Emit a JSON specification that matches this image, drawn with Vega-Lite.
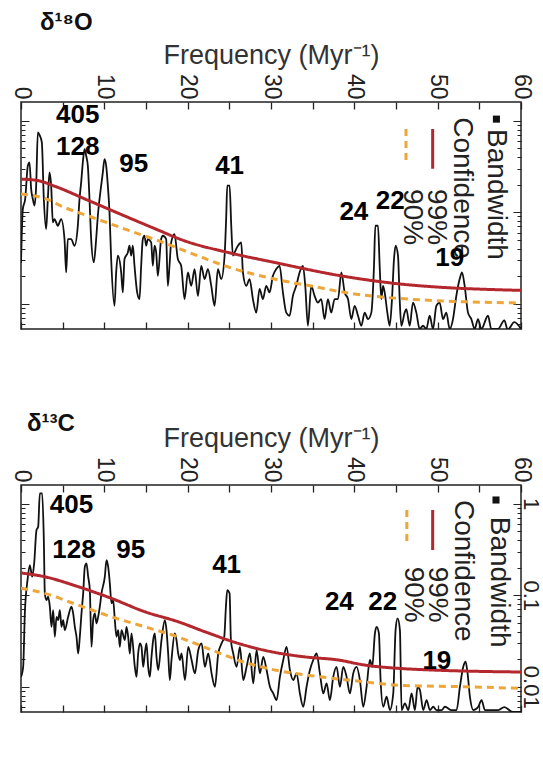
{
  "$schema": "https://vega.github.io/schema/vega-lite/v6.json",
  "background": "white",
  "padding": {"left": 8, "top": 10, "right": 0, "bottom": 0},
  "spacing": 80,
  "config": {
    "font": "Liberation Sans",
    "view": {"stroke": "#222", "strokeWidth": 1.5},
    "axis": {"domain": false, "grid": false, "tickColor": "#222", "labelColor": "#222", "titleColor": "#333", "labelFont": "Liberation Sans", "titleFont": "Liberation Sans"}
  },
  "datasets": {
    "s1": [
      {"f":0,"v":0.028},{"f":0.22,"v":0.108},{"f":0.5,"v":0.139},{"f":0.82,"v":0.322},{"f":1.02,"v":0.35},{"f":1.22,"v":0.179},{"f":1.42,"v":0.139},{"f":1.62,"v":0.118},{"f":1.82,"v":0.195},{"f":2.02,"v":0.746},{"f":2.26,"v":0.686},{"f":2.5,"v":0.58},{"f":2.74,"v":0.139},{"f":3.02,"v":0.0655},{"f":3.22,"v":0.139},{"f":3.42,"v":0.272},{"f":3.62,"v":0.195},{"f":3.82,"v":0.0774},{"f":4.02,"v":0.0842},{"f":4.42,"v":0.0712},{"f":4.82,"v":0.0842},{"f":5.22,"v":0.0509},{"f":5.42,"v":0.022},{"f":5.62,"v":0.0509},{"f":6.02,"v":0.0509},{"f":6.42,"v":0.043},{"f":6.82,"v":0.0712},{"f":7.02,"v":0.139},{"f":7.22,"v":0.212},{"f":7.42,"v":0.35},{"f":7.62,"v":0.49},{"f":7.82,"v":0.414},{"f":8.02,"v":0.322},{"f":8.22,"v":0.139},{"f":8.42,"v":0.0509},{"f":8.74,"v":0.0283},{"f":9.02,"v":0.0509},{"f":9.22,"v":0.0916},{"f":9.62,"v":0.195},{"f":9.82,"v":0.272},{"f":10.02,"v":0.381},{"f":10.22,"v":0.322},{"f":10.42,"v":0.195},{"f":10.62,"v":0.0996},{"f":10.82,"v":0.0308},{"f":11.22,"v":0.0095},{"f":11.42,"v":0.022},{"f":11.62,"v":0.0335},{"f":12.02,"v":0.022},{"f":12.22,"v":0.0133},{"f":12.42,"v":0.0308},{"f":12.82,"v":0.0364},{"f":13.02,"v":0.043},{"f":13.22,"v":0.0335},{"f":13.42,"v":0.043},{"f":13.62,"v":0.026},{"f":13.94,"v":0.0133},{"f":14.22,"v":0.01125},{"f":14.42,"v":0.026},{"f":14.62,"v":0.0509},{"f":14.82,"v":0.0553},{"f":15.02,"v":0.043},{"f":15.22,"v":0.0509},{"f":15.62,"v":0.0468},{"f":15.82,"v":0.026},{"f":16.02,"v":0.043},{"f":16.22,"v":0.0364},{"f":16.42,"v":0.0202},{"f":16.82,"v":0.0509},{"f":17.02,"v":0.0553},{"f":17.42,"v":0.0509},{"f":17.62,"v":0.0157},{"f":17.82,"v":0.026},{"f":18.02,"v":0.0468},{"f":18.42,"v":0.0577},{"f":18.82,"v":0.0308},{"f":19.22,"v":0.026},{"f":19.63,"v":0.01125},{"f":20.03,"v":0.022},{"f":20.43,"v":0.0157},{"f":20.83,"v":0.0239},{"f":21.23,"v":0.0122},{"f":21.63,"v":0.026},{"f":22.03,"v":0.0186},{"f":22.43,"v":0.0239},{"f":22.83,"v":0.0157},{"f":23.23,"v":0.0095},{"f":23.63,"v":0.0239},{"f":24.03,"v":0.0186},{"f":24.43,"v":0.0335},{"f":24.63,"v":0.0916},{"f":24.75,"v":0.195},{"f":25.03,"v":0.195},{"f":25.23,"v":0.0712},{"f":25.43,"v":0.0335},{"f":25.63,"v":0.0364},{"f":26.03,"v":0.043},{"f":26.43,"v":0.0468},{"f":26.63,"v":0.022},{"f":27.03,"v":0.0157},{"f":27.43,"v":0.0186},{"f":27.83,"v":0.01125},{"f":28.23,"v":0.008},{"f":28.63,"v":0.0145},{"f":29.03,"v":0.01125},{"f":29.43,"v":0.0157},{"f":29.83,"v":0.0133},{"f":30.23,"v":0.0202},{"f":30.63,"v":0.0239},{"f":31.03,"v":0.026},{"f":31.43,"v":0.0133},{"f":31.83,"v":0.008},{"f":32.23,"v":0.0074},{"f":32.63,"v":0.0122},{"f":33.03,"v":0.0157},{"f":33.43,"v":0.022},{"f":33.83,"v":0.026},{"f":34.11,"v":0.0157},{"f":34.43,"v":0.00575},{"f":34.83,"v":0.0157},{"f":35.23,"v":0.0122},{"f":35.63,"v":0.0103},{"f":36.03,"v":0.01125},{"f":36.43,"v":0.0068},{"f":36.83,"v":0.01125},{"f":37.23,"v":0.008},{"f":37.63,"v":0.01125},{"f":38.04,"v":0.01125},{"f":38.44,"v":0.022},{"f":38.84,"v":0.0133},{"f":39.24,"v":0.01125},{"f":39.64,"v":0.0068},{"f":40.04,"v":0.0095},{"f":40.44,"v":0.0074},{"f":40.84,"v":0.00575},{"f":41.24,"v":0.008},{"f":41.64,"v":0.0068},{"f":42.04,"v":0.008},{"f":42.36,"v":0.026},{"f":42.52,"v":0.0712},{"f":42.84,"v":0.0712},{"f":43.04,"v":0.026},{"f":43.24,"v":0.01125},{"f":43.44,"v":0.0157},{"f":43.64,"v":0.0133},{"f":43.96,"v":0.008},{"f":44.24,"v":0.00575},{"f":44.52,"v":0.01125},{"f":44.76,"v":0.0308},{"f":44.96,"v":0.043},{"f":45.24,"v":0.0335},{"f":45.44,"v":0.01125},{"f":45.64,"v":0.00575},{"f":46.04,"v":0.008},{"f":46.24,"v":0.00875},{"f":46.64,"v":0.00575},{"f":47.04,"v":0.0103},{"f":47.44,"v":0.008},{"f":47.84,"v":0.0053},{"f":48.24,"v":0.00575},{"f":48.64,"v":0.0053},{"f":49.04,"v":0.0074},{"f":49.44,"v":0.0053},{"f":49.84,"v":0.0095},{"f":50.24,"v":0.0103},{"f":50.64,"v":0.0068},{"f":51.04,"v":0.008},{"f":51.44,"v":0.0053},{"f":51.84,"v":0.0068},{"f":52.24,"v":0.0122},{"f":52.64,"v":0.0186},{"f":52.92,"v":0.022},{"f":53.24,"v":0.0157},{"f":53.64,"v":0.008},{"f":54.04,"v":0.0068},{"f":54.44,"v":0.0053},{"f":54.84,"v":0.0068},{"f":55.24,"v":0.0053},{"f":56.04,"v":0.0074},{"f":56.44,"v":0.0053},{"f":57.24,"v":0.0053},{"f":58,"v":0.0066},{"f":58.4,"v":0.0052},{"f":59.2,"v":0.0063},{"f":60,"v":0.0053}
    ],
    "s2": [
      {"f":0,"v":0.0128},{"f":0.26,"v":0.0165},{"f":0.46,"v":0.0633},{"f":0.78,"v":0.146},{"f":1.06,"v":0.2136},{"f":1.34,"v":0.1593},{"f":1.58,"v":0.223},{"f":1.86,"v":0.515},{"f":2.06,"v":0.56},{"f":2.26,"v":1.297},{"f":2.54,"v":1.297},{"f":2.74,"v":0.401},{"f":2.86,"v":0.1047},{"f":3.06,"v":0.0885},{"f":3.26,"v":0.0963},{"f":3.46,"v":0.0749},{"f":3.66,"v":0.0452},{"f":3.86,"v":0.0689},{"f":4.06,"v":0.0352},{"f":4.26,"v":0.0581},{"f":4.46,"v":0.0535},{"f":4.66,"v":0.0689},{"f":4.86,"v":0.0452},{"f":5.06,"v":0.0535},{"f":5.26,"v":0.0416},{"f":5.66,"v":0.0581},{"f":6.06,"v":0.0749},{"f":6.26,"v":0.0633},{"f":6.46,"v":0.0452},{"f":6.66,"v":0.0352},{"f":6.86,"v":0.0231},{"f":7.06,"v":0.0352},{"f":7.26,"v":0.0633},{"f":7.46,"v":0.1047},{"f":7.66,"v":0.205},{"f":7.86,"v":0.223},{"f":8.06,"v":0.1593},{"f":8.26,"v":0.1136},{"f":8.46,"v":0.0273},{"f":8.66,"v":0.0535},{"f":8.86,"v":0.0633},{"f":9.06,"v":0.0492},{"f":9.26,"v":0.0581},{"f":9.46,"v":0.0749},{"f":9.66,"v":0.1047},{"f":10.06,"v":0.1593},{"f":10.26,"v":0.242},{"f":10.46,"v":0.205},{"f":10.66,"v":0.1347},{"f":10.86,"v":0.0814},{"f":11.06,"v":0.0885},{"f":11.26,"v":0.0535},{"f":11.46,"v":0.0352},{"f":11.66,"v":0.0416},{"f":11.86,"v":0.0273},{"f":12.06,"v":0.0416},{"f":12.46,"v":0.0324},{"f":12.66,"v":0.0452},{"f":12.86,"v":0.0352},{"f":13.06,"v":0.0231},{"f":13.26,"v":0.0383},{"f":13.66,"v":0.0165},{"f":13.86,"v":0.01283},{"f":14.06,"v":0.0231},{"f":14.26,"v":0.0298},{"f":14.46,"v":0.0273},{"f":14.66,"v":0.0165},{"f":14.86,"v":0.0231},{"f":15.06,"v":0.0298},{"f":15.26,"v":0.0165},{"f":15.46,"v":0.01283},{"f":15.66,"v":0.0212},{"f":15.86,"v":0.0324},{"f":16.06,"v":0.0383},{"f":16.26,"v":0.0212},{"f":16.46,"v":0.01525},{"f":16.86,"v":0.0324},{"f":17.26,"v":0.0535},{"f":17.46,"v":0.0416},{"f":17.66,"v":0.0231},{"f":17.86,"v":0.01183},{"f":18.06,"v":0.0196},{"f":18.46,"v":0.0383},{"f":18.66,"v":0.0324},{"f":18.86,"v":0.0231},{"f":19.06,"v":0.0196},{"f":19.27,"v":0.0231},{"f":19.67,"v":0.01183},{"f":20.07,"v":0.0273},{"f":20.47,"v":0.0196},{"f":20.87,"v":0.014},{"f":21.27,"v":0.0251},{"f":21.67,"v":0.0298},{"f":22.07,"v":0.0165},{"f":22.47,"v":0.0231},{"f":22.87,"v":0.014},{"f":23.27,"v":0.01},{"f":23.67,"v":0.0231},{"f":24.07,"v":0.0298},{"f":24.39,"v":0.0352},{"f":24.59,"v":0.0749},{"f":24.75,"v":0.1136},{"f":25.03,"v":0.1047},{"f":25.19,"v":0.0324},{"f":25.47,"v":0.0231},{"f":25.87,"v":0.0165},{"f":26.27,"v":0.0273},{"f":26.67,"v":0.01183},{"f":27.07,"v":0.0165},{"f":27.47,"v":0.0231},{"f":27.87,"v":0.01087},{"f":28.27,"v":0.0251},{"f":28.67,"v":0.014},{"f":29.07,"v":0.0212},{"f":29.47,"v":0.01525},{"f":29.87,"v":0.01},{"f":30.27,"v":0.00845},{"f":30.67,"v":0.00715},{"f":31.07,"v":0.01283},{"f":31.47,"v":0.0196},{"f":31.87,"v":0.0273},{"f":32.27,"v":0.01525},{"f":32.67,"v":0.01183},{"f":33.07,"v":0.014},{"f":33.47,"v":0.00845},{"f":33.87,"v":0.00605},{"f":34.27,"v":0.01},{"f":34.67,"v":0.01525},{"f":35.07,"v":0.0196},{"f":35.47,"v":0.0231},{"f":35.87,"v":0.014},{"f":36.27,"v":0.00845},{"f":36.67,"v":0.01087},{"f":37.07,"v":0.00715},{"f":37.47,"v":0.01283},{"f":37.87,"v":0.0165},{"f":38.27,"v":0.01},{"f":38.67,"v":0.0165},{"f":39.07,"v":0.01283},{"f":39.47,"v":0.00845},{"f":39.87,"v":0.014},{"f":40.27,"v":0.0165},{"f":40.67,"v":0.01183},{"f":41.07,"v":0.00605},{"f":41.47,"v":0.01},{"f":41.87,"v":0.0196},{"f":42.15,"v":0.0165},{"f":42.47,"v":0.0383},{"f":42.67,"v":0.0452},{"f":42.95,"v":0.0383},{"f":43.15,"v":0.01183},{"f":43.47,"v":0.00605},{"f":43.87,"v":0.00778},{"f":44.27,"v":0.00556},{"f":44.67,"v":0.00845},{"f":44.95,"v":0.0416},{"f":45.19,"v":0.0558},{"f":45.47,"v":0.0416},{"f":45.67,"v":0.00556},{"f":46.07,"v":0.00657},{"f":46.47,"v":0.00556},{"f":46.87,"v":0.00845},{"f":47.27,"v":0.00556},{"f":47.59,"v":0.01},{"f":47.87,"v":0.0092},{"f":48.27,"v":0.00556},{"f":48.67,"v":0.00715},{"f":49.07,"v":0.00556},{"f":49.47,"v":0.00605},{"f":49.87,"v":0.00556},{"f":50.47,"v":0.00556},{"f":50.87,"v":0.00605},{"f":51.67,"v":0.00556},{"f":52.27,"v":0.00556},{"f":52.67,"v":0.01},{"f":53.07,"v":0.0165},{"f":53.35,"v":0.01875},{"f":53.59,"v":0.014},{"f":53.87,"v":0.00778},{"f":54.27,"v":0.00556},{"f":54.87,"v":0.00605},{"f":55.27,"v":0.00715},{"f":55.67,"v":0.00556},{"f":56.47,"v":0.00556},{"f":57.27,"v":0.00556},{"f":58,"v":0.006},{"f":59,"v":0.0053},{"f":60,"v":0.0053}
    ],
    "c1": [
      {"f":0,"v":0.23,"level":"99%"},{"f":2,"v":0.222,"level":"99%"},{"f":4,"v":0.193,"level":"99%"},{"f":8,"v":0.1355,"level":"99%"},{"f":12,"v":0.0947,"level":"99%"},{"f":16,"v":0.0665,"level":"99%"},{"f":19.6,"v":0.0488,"level":"99%"},{"f":24.8,"v":0.0364,"level":"99%"},{"f":30.4,"v":0.0283,"level":"99%"},{"f":38.4,"v":0.0202,"level":"99%"},{"f":45.6,"v":0.0164,"level":"99%"},{"f":49.6,"v":0.0153,"level":"99%"},{"f":57.6,"v":0.0142,"level":"99%"},{"f":60,"v":0.014,"level":"99%"},
      {"f":0,"v":0.158,"level":"90%"},{"f":3,"v":0.14,"level":"90%"},{"f":5,"v":0.115,"level":"90%"},{"f":9,"v":0.085,"level":"90%"},{"f":13,"v":0.063,"level":"90%"},{"f":17,"v":0.047,"level":"90%"},{"f":21,"v":0.034,"level":"90%"},{"f":25,"v":0.025,"level":"90%"},{"f":30,"v":0.019,"level":"90%"},{"f":35,"v":0.0155,"level":"90%"},{"f":40,"v":0.0128,"level":"90%"},{"f":45,"v":0.0115,"level":"90%"},{"f":50,"v":0.0108,"level":"90%"},{"f":55,"v":0.0104,"level":"90%"},{"f":60,"v":0.0102,"level":"90%"}
    ],
    "c2": [
      {"f":0,"v":0.175,"level":"99%"},{"f":2.86,"v":0.159,"level":"99%"},{"f":6.86,"v":0.124,"level":"99%"},{"f":10.86,"v":0.0923,"level":"99%"},{"f":14.86,"v":0.066,"level":"99%"},{"f":18.86,"v":0.0513,"level":"99%"},{"f":22.07,"v":0.0399,"level":"99%"},{"f":26.07,"v":0.0298,"level":"99%"},{"f":30.07,"v":0.0241,"level":"99%"},{"f":34.07,"v":0.0212,"level":"99%"},{"f":38.07,"v":0.0196,"level":"99%"},{"f":41.27,"v":0.01725,"level":"99%"},{"f":45.27,"v":0.0159,"level":"99%"},{"f":49.27,"v":0.01525,"level":"99%"},{"f":57.27,"v":0.0146,"level":"99%"},{"f":60,"v":0.0145,"level":"99%"},
      {"f":0,"v":0.119,"level":"90%"},{"f":2.86,"v":0.1047,"level":"90%"},{"f":6.86,"v":0.078,"level":"90%"},{"f":10.86,"v":0.0581,"level":"90%"},{"f":14.86,"v":0.0452,"level":"90%"},{"f":18.86,"v":0.035,"level":"90%"},{"f":22.07,"v":0.027,"level":"90%"},{"f":26.07,"v":0.0195,"level":"90%"},{"f":30.07,"v":0.0155,"level":"90%"},{"f":36.07,"v":0.0128,"level":"90%"},{"f":41.27,"v":0.0113,"level":"90%"},{"f":45.27,"v":0.0104,"level":"90%"},{"f":53.27,"v":0.01,"level":"90%"},{"f":60,"v":0.0096,"level":"90%"}
    ],
    "p1": [
      {"f":6.8,"v":1.16,"t":"405"},{"f":6.8,"v":0.522,"t":"128"},{"f":13.53,"v":0.336,"t":"95"},{"f":25.03,"v":0.316,"t":"41"},{"f":39.94,"v":0.1017,"t":"24"},{"f":44.3,"v":0.1334,"t":"22"},{"f":51.44,"v":0.0314,"t":"19"}
    ],
    "p2": [
      {"f":6.06,"v":0.967,"t":"405"},{"f":6.36,"v":0.312,"t":"128"},{"f":13.17,"v":0.312,"t":"95"},{"f":24.67,"v":0.214,"t":"41"},{"f":38.2,"v":0.085,"t":"24"},{"f":43.4,"v":0.085,"t":"22"},{"f":49.9,"v":0.0192,"t":"19"}
    ],
    "lt1": [
      {"f":57.05,"v":0.81,"t":"Bandwidth"},{"f":52.94,"v":1.09,"t":"Confidence"},{"f":49.8,"v":0.179,"t":"99%"},{"f":46.9,"v":0.179,"t":"90%"}
    ],
    "lt2": [
      {"f":57.3,"v":0.72,"t":"Bandwidth"},{"f":52.98,"v":1.097,"t":"Confidence"},{"f":49.9,"v":0.205,"t":"99%"},{"f":46.98,"v":0.205,"t":"90%"}
    ],
    "ll1": [
      {"f":49.4,"v":0.811,"v2":0.298,"level":"99%"},{"f":46.2,"v":0.811,"v2":0.341,"level":"90%"}
    ],
    "ll2": [
      {"f":49.4,"v":0.853,"v2":0.312,"level":"99%"},{"f":46.3,"v":0.853,"v2":0.37,"level":"90%"}
    ],
    "lq1": [{"f":57.05,"v":1.04}],
    "lq2": [{"f":57.0,"v":1.097}]
  },
  "vconcat": [
    {
      "width": 500,
      "height": 227,
      "title": {"text": "δ¹⁸O", "anchor": "start", "dx": 31, "offset": 6, "fontSize": 24, "fontWeight": "bold", "color": "#111", "font": "Liberation Sans"},
      "resolve": {"axis": {"x": "independent", "y": "independent"}},
      "layer": [
        {
          "data": {"name": "s1"},
          "mark": {"type": "line", "color": "#111", "strokeWidth": 1.8, "interpolate": "monotone", "clip": true},
          "encoding": {
            "x": {"field": "f", "type": "quantitative", "scale": {"domain": [0, 60], "nice": false, "zero": false},
                  "axis": {"orient": "top", "values": [0,5,10,15,20,25,30,35,40,45,50,55,60], "labelExpr": "datum.value % 10 == 0 ? datum.label : ''", "labelAngle": 90, "labelFontSize": 23, "labelPadding": 10, "labelOverlap": false, "labelFlush": false, "labelBound": false, "tickSize": -7, "tickWidth": 1.3, "title": "Frequency (Myr⁻¹)", "titleFontSize": 27, "titleFontWeight": "normal", "titlePadding": 4}},
            "y": {"field": "v", "type": "quantitative", "scale": {"type": "log", "domain": [0.0053, 1.6], "nice": false},
                  "axis": {"orient": "left", "values": [0.006,0.007,0.008,0.009,0.01,0.02,0.03,0.04,0.05,0.06,0.07,0.08,0.09,0.1,0.2,0.3,0.4,0.5,0.6,0.7,0.8,0.9,1], "labels": false, "title": null, "tickSize": {"condition": {"test": "datum.value == 1 || datum.value == 0.1 || datum.value == 0.01", "value": -8}, "value": -4}, "tickWidth": 1}}
          }
        },
        {
          "data": {"name": "c1"},
          "mark": {"type": "line", "strokeWidth": 3, "interpolate": "monotone", "clip": true},
          "encoding": {
            "x": {"field": "f", "type": "quantitative", "scale": {"domain": [0, 60], "nice": false, "zero": false},
                  "axis": {"orient": "bottom", "values": [0,5,10,15,20,25,30,35,40,45,50,55,60], "labels": false, "title": null, "tickSize": -7, "tickWidth": 1.3}},
            "y": {"field": "v", "type": "quantitative", "scale": {"type": "log", "domain": [0.0053, 1.6], "nice": false},
                  "axis": {"orient": "right", "values": [0.006,0.007,0.008,0.009,0.01,0.02,0.03,0.04,0.05,0.06,0.07,0.08,0.09,0.1,0.2,0.3,0.4,0.5,0.6,0.7,0.8,0.9,1], "labels": false, "title": null, "tickSize": {"condition": {"test": "datum.value == 1 || datum.value == 0.1 || datum.value == 0.01", "value": -8}, "value": -4}, "tickWidth": 1}},
            "color": {"field": "level", "type": "nominal", "scale": {"domain": ["99%", "90%"], "range": ["#b3272d", "#eea53a"]}, "legend": null},
            "strokeDash": {"field": "level", "type": "nominal", "scale": {"domain": ["99%", "90%"], "range": [[1, 0], [7, 5]]}, "legend": null}
          }
        },
        {
          "data": {"name": "ll1"},
          "mark": {"type": "rule", "strokeWidth": 3},
          "encoding": {
            "x": {"field": "f", "type": "quantitative", "axis": null},
            "y": {"field": "v", "type": "quantitative", "axis": null},
            "y2": {"field": "v2"},
            "color": {"field": "level", "type": "nominal", "legend": null},
            "strokeDash": {"field": "level", "type": "nominal", "legend": null}
          }
        },
        {
          "data": {"name": "lq1"},
          "mark": {"type": "square", "filled": true, "color": "#111", "size": 50, "opacity": 1},
          "encoding": {
            "x": {"field": "f", "type": "quantitative", "axis": null},
            "y": {"field": "v", "type": "quantitative", "axis": null}
          }
        },
        {
          "data": {"name": "lt1"},
          "mark": {"type": "text", "angle": 90, "align": "left", "baseline": "middle", "fontSize": 28, "color": "#222", "font": "Liberation Sans"},
          "encoding": {
            "x": {"field": "f", "type": "quantitative", "axis": null},
            "y": {"field": "v", "type": "quantitative", "axis": null},
            "text": {"field": "t"}
          }
        },
        {
          "data": {"name": "p1"},
          "mark": {"type": "text", "align": "center", "baseline": "middle", "fontSize": 26, "fontWeight": "bold", "color": "#000", "font": "Liberation Sans"},
          "encoding": {
            "x": {"field": "f", "type": "quantitative", "axis": null},
            "y": {"field": "v", "type": "quantitative", "axis": null},
            "text": {"field": "t"}
          }
        }
      ]
    },
    {
      "width": 500,
      "height": 227,
      "title": {"text": "δ¹³C", "anchor": "start", "dx": 18, "offset": -12, "fontSize": 24, "fontWeight": "bold", "color": "#111", "font": "Liberation Sans"},
      "resolve": {"axis": {"x": "independent", "y": "independent"}},
      "layer": [
        {
          "data": {"name": "s2"},
          "mark": {"type": "line", "color": "#111", "strokeWidth": 1.8, "interpolate": "monotone", "clip": true},
          "encoding": {
            "x": {"field": "f", "type": "quantitative", "scale": {"domain": [0, 60], "nice": false, "zero": false},
                  "axis": {"orient": "top", "values": [0,5,10,15,20,25,30,35,40,45,50,55,60], "labelExpr": "datum.value % 10 == 0 ? datum.label : ''", "labelAngle": 90, "labelFontSize": 23, "labelPadding": 10, "labelOverlap": false, "labelFlush": false, "labelBound": false, "tickSize": -7, "tickWidth": 1.3, "title": "Frequency (Myr⁻¹)", "titleFontSize": 27, "titleFontWeight": "normal", "titlePadding": 4}},
            "y": {"field": "v", "type": "quantitative", "scale": {"type": "log", "domain": [0.0053, 1.6], "nice": false},
                  "axis": {"orient": "left", "values": [0.006,0.007,0.008,0.009,0.01,0.02,0.03,0.04,0.05,0.06,0.07,0.08,0.09,0.1,0.2,0.3,0.4,0.5,0.6,0.7,0.8,0.9,1], "labels": false, "title": null, "tickSize": {"condition": {"test": "datum.value == 1 || datum.value == 0.1 || datum.value == 0.01", "value": -8}, "value": -4}, "tickWidth": 1}}
          }
        },
        {
          "data": {"name": "c2"},
          "mark": {"type": "line", "strokeWidth": 3, "interpolate": "monotone", "clip": true},
          "encoding": {
            "x": {"field": "f", "type": "quantitative", "scale": {"domain": [0, 60], "nice": false, "zero": false},
                  "axis": {"orient": "bottom", "values": [0,5,10,15,20,25,30,35,40,45,50,55,60], "labels": false, "title": null, "tickSize": -7, "tickWidth": 1.3}},
            "y": {"field": "v", "type": "quantitative", "scale": {"type": "log", "domain": [0.0053, 1.6], "nice": false},
                  "axis": {"orient": "right", "values": [0.006,0.007,0.008,0.009,0.01,0.02,0.03,0.04,0.05,0.06,0.07,0.08,0.09,0.1,0.2,0.3,0.4,0.5,0.6,0.7,0.8,0.9,1], "labelExpr": "datum.value == 1 ? '1' : datum.value == 0.1 ? '0.1' : datum.value == 0.01 ? '0.01' : ''", "labelAngle": 90, "labelAlign": "center", "labelBaseline": "alphabetic", "labelFontSize": 22, "labelPadding": 10, "labelOverlap": false, "labelFlush": false, "labelBound": false, "title": null, "tickSize": {"condition": {"test": "datum.value == 1 || datum.value == 0.1 || datum.value == 0.01", "value": -8}, "value": -4}, "tickWidth": 1}},
            "color": {"field": "level", "type": "nominal", "scale": {"domain": ["99%", "90%"], "range": ["#b3272d", "#eea53a"]}, "legend": null},
            "strokeDash": {"field": "level", "type": "nominal", "scale": {"domain": ["99%", "90%"], "range": [[1, 0], [7, 5]]}, "legend": null}
          }
        },
        {
          "data": {"name": "ll2"},
          "mark": {"type": "rule", "strokeWidth": 3},
          "encoding": {
            "x": {"field": "f", "type": "quantitative", "axis": null},
            "y": {"field": "v", "type": "quantitative", "axis": null},
            "y2": {"field": "v2"},
            "color": {"field": "level", "type": "nominal", "legend": null},
            "strokeDash": {"field": "level", "type": "nominal", "legend": null}
          }
        },
        {
          "data": {"name": "lq2"},
          "mark": {"type": "square", "filled": true, "color": "#111", "size": 50, "opacity": 1},
          "encoding": {
            "x": {"field": "f", "type": "quantitative", "axis": null},
            "y": {"field": "v", "type": "quantitative", "axis": null}
          }
        },
        {
          "data": {"name": "lt2"},
          "mark": {"type": "text", "angle": 90, "align": "left", "baseline": "middle", "fontSize": 28, "color": "#222", "font": "Liberation Sans"},
          "encoding": {
            "x": {"field": "f", "type": "quantitative", "axis": null},
            "y": {"field": "v", "type": "quantitative", "axis": null},
            "text": {"field": "t"}
          }
        },
        {
          "data": {"name": "p2"},
          "mark": {"type": "text", "align": "center", "baseline": "middle", "fontSize": 26, "fontWeight": "bold", "color": "#000", "font": "Liberation Sans"},
          "encoding": {
            "x": {"field": "f", "type": "quantitative", "axis": null},
            "y": {"field": "v", "type": "quantitative", "axis": null},
            "text": {"field": "t"}
          }
        }
      ]
    }
  ]
}
